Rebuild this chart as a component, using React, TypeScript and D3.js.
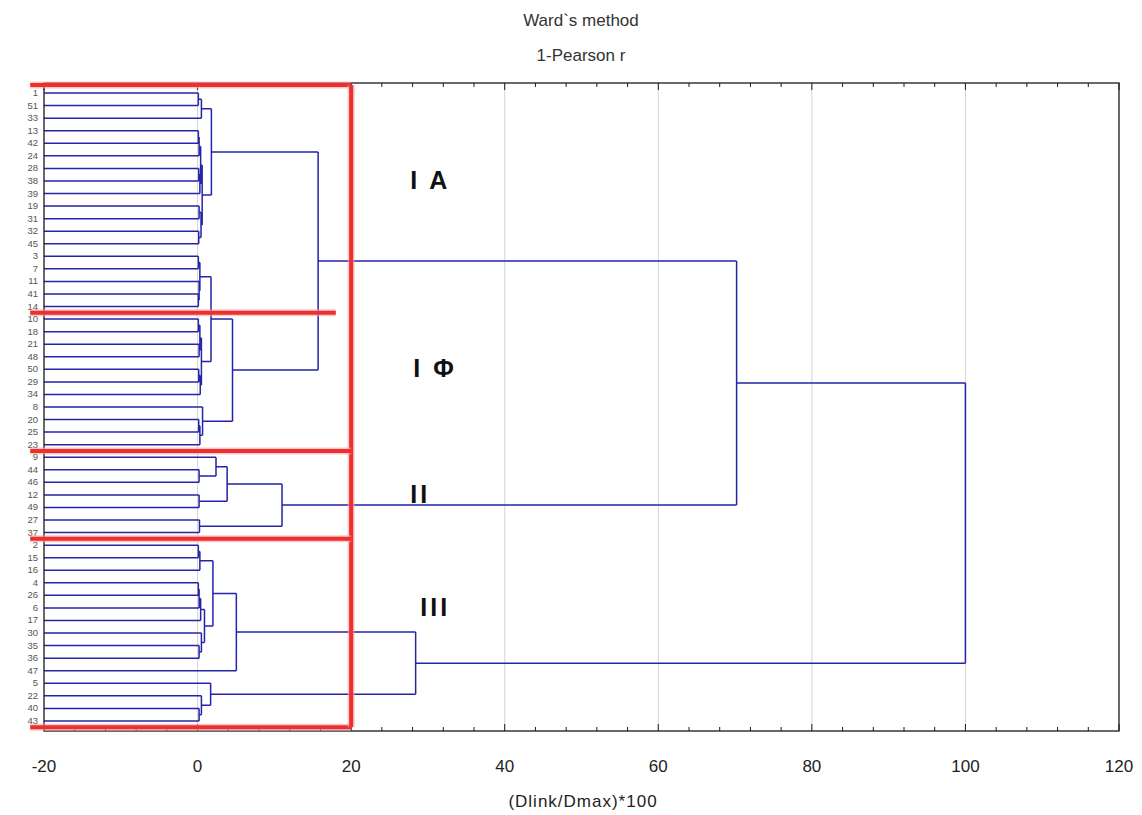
import React from "react";
import * as d3 from "d3";

// dendrogram nodes: [linkage distance, left, right]; leaves are specimen numbers
const clusterIA = [1.8, [0.5, [0.1, 1, 51], 33],
  [0.6, [0.4, [0.2, [0.1, 13, 42], 24], [0.3, [0.15, 28, 38], 39]], [0.45, [0.2, 19, 31], [0.15, 32, 45]]]];
const clusterIPhiA = [0.3, [0.1, 3, 7], [0.2, 11, [0.1, 41, 14]]];
const clusterIPhiB = [0.5, [0.3, [0.1, 10, 18], [0.2, 21, 48]], [0.35, [0.15, 50, 29], 34]];
const clusterIPhiC = [0.65, 8, [0.3, [0.15, 20, 25], 23]];
const clusterIPhi = [4.55, [1.75, clusterIPhiA, clusterIPhiB], clusterIPhiC];
const clusterI = [15.7, clusterIA, clusterIPhi];
const clusterII = [11, [3.85, [2.4, 9, [0.2, 44, 46]], [0.2, 12, 49]], [0.25, 27, 37]];
const clusterIIIa = [2.0, [0.3, [0.1, 2, 15], 16], [0.9, [0.4, [0.2, [0.1, 4, 26], 6], 17], [0.5, 30, [0.2, 35, 36]]]];
const clusterIIIb = [1.7, 5, [0.5, 22, [0.2, 40, 43]]];
const clusterIII = [28.4, [5.05, clusterIIIa, 47], clusterIIIb];
const tree = [100, [70.2, clusterI, clusterII], clusterIII];

const xTicks = [-20, 0, 20, 40, 60, 80, 100, 120];
const gridTicks = [0, 20, 40, 60, 80, 100];
// hand drawn group annotations
const groupNames = ["I A", "I Φ", "II", "III"];
const groupLabelLeaf = [38, 50, 12, 6];
const groupLabelX = [27.7, 28.1, 27.7, 29];
const groupBreakLeaf = [10, 9, 2]; // first leaf below each red line

const W = 1142;
const H = 815;
const plot = { left: 44, right: 1119, top: 83, bottom: 731 };

export default function App() {
  const x = d3.scaleLinear().domain([-20, 120]).range([plot.left, plot.right]);

  const root: any = d3.hierarchy<any>(tree, (d) => (Array.isArray(d) ? d.slice(1) : null));
  const ids = root.leaves().map((l: any) => l.data as number);
  const y = d3.scalePoint<number>().domain(ids).range([plot.top, plot.bottom]).padding(0.8);
  const step = y.step();

  root.eachAfter((n: any) => {
    if (n.children) {
      n.yy = d3.mean(n.children, (c: any) => c.yy);
      n.h = n.data[0];
    } else {
      n.yy = y(n.data);
      n.h = -20;
    }
  });

  const p = d3.path();
  root.each((n: any) => {
    if (!n.children) return;
    const ys = n.children.map((c: any) => c.yy);
    p.moveTo(x(n.h), d3.min(ys)!);
    p.lineTo(x(n.h), d3.max(ys)!);
    n.children.forEach((c: any) => {
      p.moveTo(x(c.h), c.yy);
      p.lineTo(x(n.h), c.yy);
    });
  });

  const minor = d3.range(-20, 121, 4);

  const breakY = (id: number) => {
    const i = ids.indexOf(id);
    return ((y(ids[i - 1]) as number) + (y(ids[i]) as number)) / 2;
  };
  const redTop = (y(ids[0]) as number) - 0.65 * step;
  const redBottom = (y(ids[ids.length - 1]) as number) + 0.5 * step;
  const redLeft = x(-21.8);
  const redRight = x(20);
  const redLines: [number, number, number, number][] = [
    [redLeft, redTop, redRight, redTop],
    [redLeft, redBottom, redRight, redBottom],
    [redRight, redTop, redRight, redBottom],
    [redLeft, breakY(groupBreakLeaf[0]), x(18), breakY(groupBreakLeaf[0])],
    [redLeft, breakY(groupBreakLeaf[1]), redRight, breakY(groupBreakLeaf[1])],
    [redLeft, breakY(groupBreakLeaf[2]), redRight, breakY(groupBreakLeaf[2])],
  ];

  return (
    <svg width={W} height={H} style={{ position: "absolute", left: 0, top: 0, background: "#fff" }}
      fontFamily="Arial, 'Liberation Sans', sans-serif">
      <text x={581} y={26} textAnchor="middle" fontSize={17} fill="#333">Ward`s method</text>
      <text x={581} y={61} textAnchor="middle" fontSize={17} fill="#333">1-Pearson r</text>

      {gridTicks.map((t) => (
        <line key={"g" + t} x1={x(t)} x2={x(t)} y1={plot.top} y2={plot.bottom} stroke="#d4d4d4" strokeWidth={1} />
      ))}

      <path d={p.toString()} fill="none" stroke="#2424a8" strokeWidth={1.5} />

      <rect x={plot.left} y={plot.top} width={plot.right - plot.left} height={plot.bottom - plot.top}
        fill="none" stroke="#1a1a1a" strokeWidth={1.3} />
      {minor.map((t) => {
        const len = t % 20 === 0 ? 7 : 4;
        return (
          <g key={"t" + t}>
            <line x1={x(t)} x2={x(t)} y1={plot.bottom} y2={plot.bottom - len} stroke="#1a1a1a" />
            <line x1={x(t)} x2={x(t)} y1={plot.top} y2={plot.top + len} stroke="#1a1a1a" />
          </g>
        );
      })}

      {ids.map((id: number) => (
        <text key={"l" + id} x={38} y={(y(id) as number) + 3} textAnchor="end" fontSize={9.5} fill="#555">{id}</text>
      ))}

      {xTicks.map((t) => (
        <text key={"x" + t} x={x(t)} y={772} textAnchor="middle" fontSize={17} fill="#222">{t}</text>
      ))}
      <text x={583} y={807} textAnchor="middle" fontSize={17} fill="#222" letterSpacing={1}>(Dlink/Dmax)*100</text>

      {redLines.map((l, i) => (
        <g key={"r" + i}>
          <line x1={l[0]} y1={l[1]} x2={l[2]} y2={l[3]} stroke="#f7a5a5" strokeWidth={7} strokeOpacity={0.6} />
          <line x1={l[0]} y1={l[1]} x2={l[2]} y2={l[3]} stroke="#ee2f2f" strokeWidth={4} />
        </g>
      ))}

      {groupNames.map((g, i) => (
        <text key={g} x={x(groupLabelX[i])} y={(y(groupLabelLeaf[i]) as number) + 8} fontSize={25}
          fontWeight="bold" fill="#111" letterSpacing={3}>{g}</text>
      ))}
    </svg>
  );
}
